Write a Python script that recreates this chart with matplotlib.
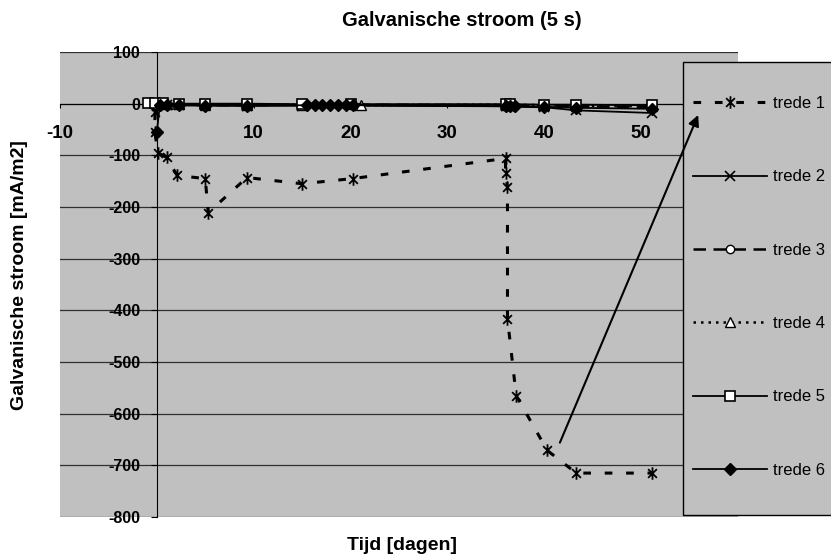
import numpy as np
import matplotlib.pyplot as plt
from matplotlib.path import Path
from matplotlib.patches import Rectangle, FancyArrowPatch

plt.rcParams['font.family'] = 'Liberation Sans'
plt.rcParams['axes.unicode_minus'] = False

# Data (tijd in dagen, stroom in mA/m2)
x1 = [-0.2, -0.2, 0.1, 1.0, 2.1, 5.0, 5.3, 9.3, 15.0, 20.2, 36.0, 36.0, 36.2, 36.2, 37.1, 40.3, 43.3, 51.1]
y1 = [-17, -55, -95, -104, -139, -145, -211, -143, -155, -145, -106, -135, -162, -416, -565, -671, -715, -715]

x2 = [0, 1, 2.3, 5, 9.3, 15, 20, 36, 36.5, 40, 43.3, 51.1]
y2 = [-5, -3, -3, -3, -4, -4, -4, -5, -6, -7, -13, -18]

x3 = [0, 1, 2.3, 5, 9.3, 15, 20, 36, 36.5, 40, 43.3, 51.1]
y3 = [-2, -2, -2, -3, -3, -2, -2, -3, -3, -4, -5, -7]

x4 = [0, 1, 2.3, 5, 9.3, 15, 21.1, 36, 36.5, 40, 43.3, 51.1]
y4 = [-1, -1, -1, -2, -2, -2, -3, -2, -2, -3, -4, -5]

x5 = [-0.9, -0.2, 0.6, 2.3, 5, 9.3, 15, 20, 36, 36.5, 40, 43.3, 51.1]
y5 = [1, 1, 1, 0, 0, 0, -1, -1, -1, -1, -2, -2, -3]

x6 = [0, 0.3, 1, 2.3, 5, 9.3, 15.5, 16.3, 17.1, 17.9, 18.7, 19.5, 20.2, 36, 36.5, 37, 40, 43.3, 51.1]
y6 = [-55, -3, -3, -3, -4, -4, -3, -3, -3, -3, -3, -3, -3, -5, -5, -5, -6, -8, -10]

labels = ['trede 1', 'trede 2', 'trede 3', 'trede 4', 'trede 5', 'trede 6']

# excel-achtige ster: kruis + verticale lijn
star = Path([(0, -1), (0, 1), (-0.7, -0.7), (0.7, 0.7), (-0.7, 0.7), (0.7, -0.7)],
            [Path.MOVETO, Path.LINETO, Path.MOVETO, Path.LINETO, Path.MOVETO, Path.LINETO])

fig = plt.figure(figsize=(8.31, 5.57), dpi=100)
ax = fig.add_axes([60/831, 1-517/557, 678/831, 465/557])
ax.set_facecolor('#c0c0c0')

h1, = ax.plot(x1, y1, color='black', lw=2.2, dashes=(2.5, 4.5), marker=star, ms=9, mew=1.3, zorder=3)
h2, = ax.plot(x2, y2, color='black', lw=1.3, marker='x', ms=7, mew=1.2, zorder=4)
h3, = ax.plot(x3, y3, color='black', lw=1.8, dashes=(5, 3), marker='o', ms=6, mfc='white', mec='black', zorder=4)
h4, = ax.plot(x4, y4, color='black', lw=1.8, dashes=(1, 2), marker='^', ms=7, mfc='white', mec='black', zorder=4)
h5, = ax.plot(x5, y5, color='black', lw=1.3, marker='s', ms=7, mfc='white', mec='black', mew=1.2, zorder=4)
h6, = ax.plot(x6, y6, color='black', lw=1.3, marker='D', ms=6, mfc='black', mec='black', zorder=4)

ax.set_xlim(-10, 60)
ax.set_ylim(-800, 100)
ax.set_xticks([-10, 0, 10, 20, 30, 40, 50, 60])
ax.set_xticklabels(['-10', '', '10', '20', '30', '40', '50', ''])
ax.set_yticks(np.arange(-800, 101, 100))
ax.grid(axis='y', color='#303030', lw=0.9)
ax.grid(axis='x', visible=False)
ax.set_axisbelow(True)

for s in ['top', 'right']:
    ax.spines[s].set_visible(False)
ax.spines['left'].set_position(('data', 0))
ax.spines['bottom'].set_position(('data', 0))
ax.tick_params(axis='x', direction='out', length=3, pad=12.5, labelsize=13.5)
ax.tick_params(axis='y', direction='out', length=4, pad=8, labelsize=11.5)
for t in ax.get_xticklabels() + ax.get_yticklabels():
    t.set_fontweight('bold')

fig.text(462/831, 1-20/557, 'Galvanische stroom (5 s)', ha='center', va='center', fontsize=14.5, fontweight='bold')
fig.text(402/831, 1-546/557, 'Tijd [dagen]', ha='center', va='center', fontsize=14, fontweight='bold')
fig.text(20/831, 1-275/557, 'Galvanische stroom [mA/m2]', ha='center', va='center', rotation=90,
         fontsize=14, fontweight='bold')

# legenda-kader
fig.patches.append(Rectangle((683/831, 1-515/557), 160/831, 453/557, transform=fig.transFigure,
                             facecolor='#c0c0c0', edgecolor='black', lw=1, zorder=5))
leg = fig.legend([h1, h2, h3, h4, h5, h6], labels, loc='upper left',
                 bbox_to_anchor=(693/831, 1-96/557), frameon=False, fontsize=12,
                 handlelength=4.43, handletextpad=0.36, labelspacing=3.5, borderpad=0, borderaxespad=0)
leg.set_zorder(6)

arrow = FancyArrowPatch((41.5, -661), (56, -17), transform=ax.transData, arrowstyle='-|>',
                        color='black', lw=1.5, mutation_scale=16, zorder=10)
fig.add_artist(arrow)

plt.savefig('out.png')
